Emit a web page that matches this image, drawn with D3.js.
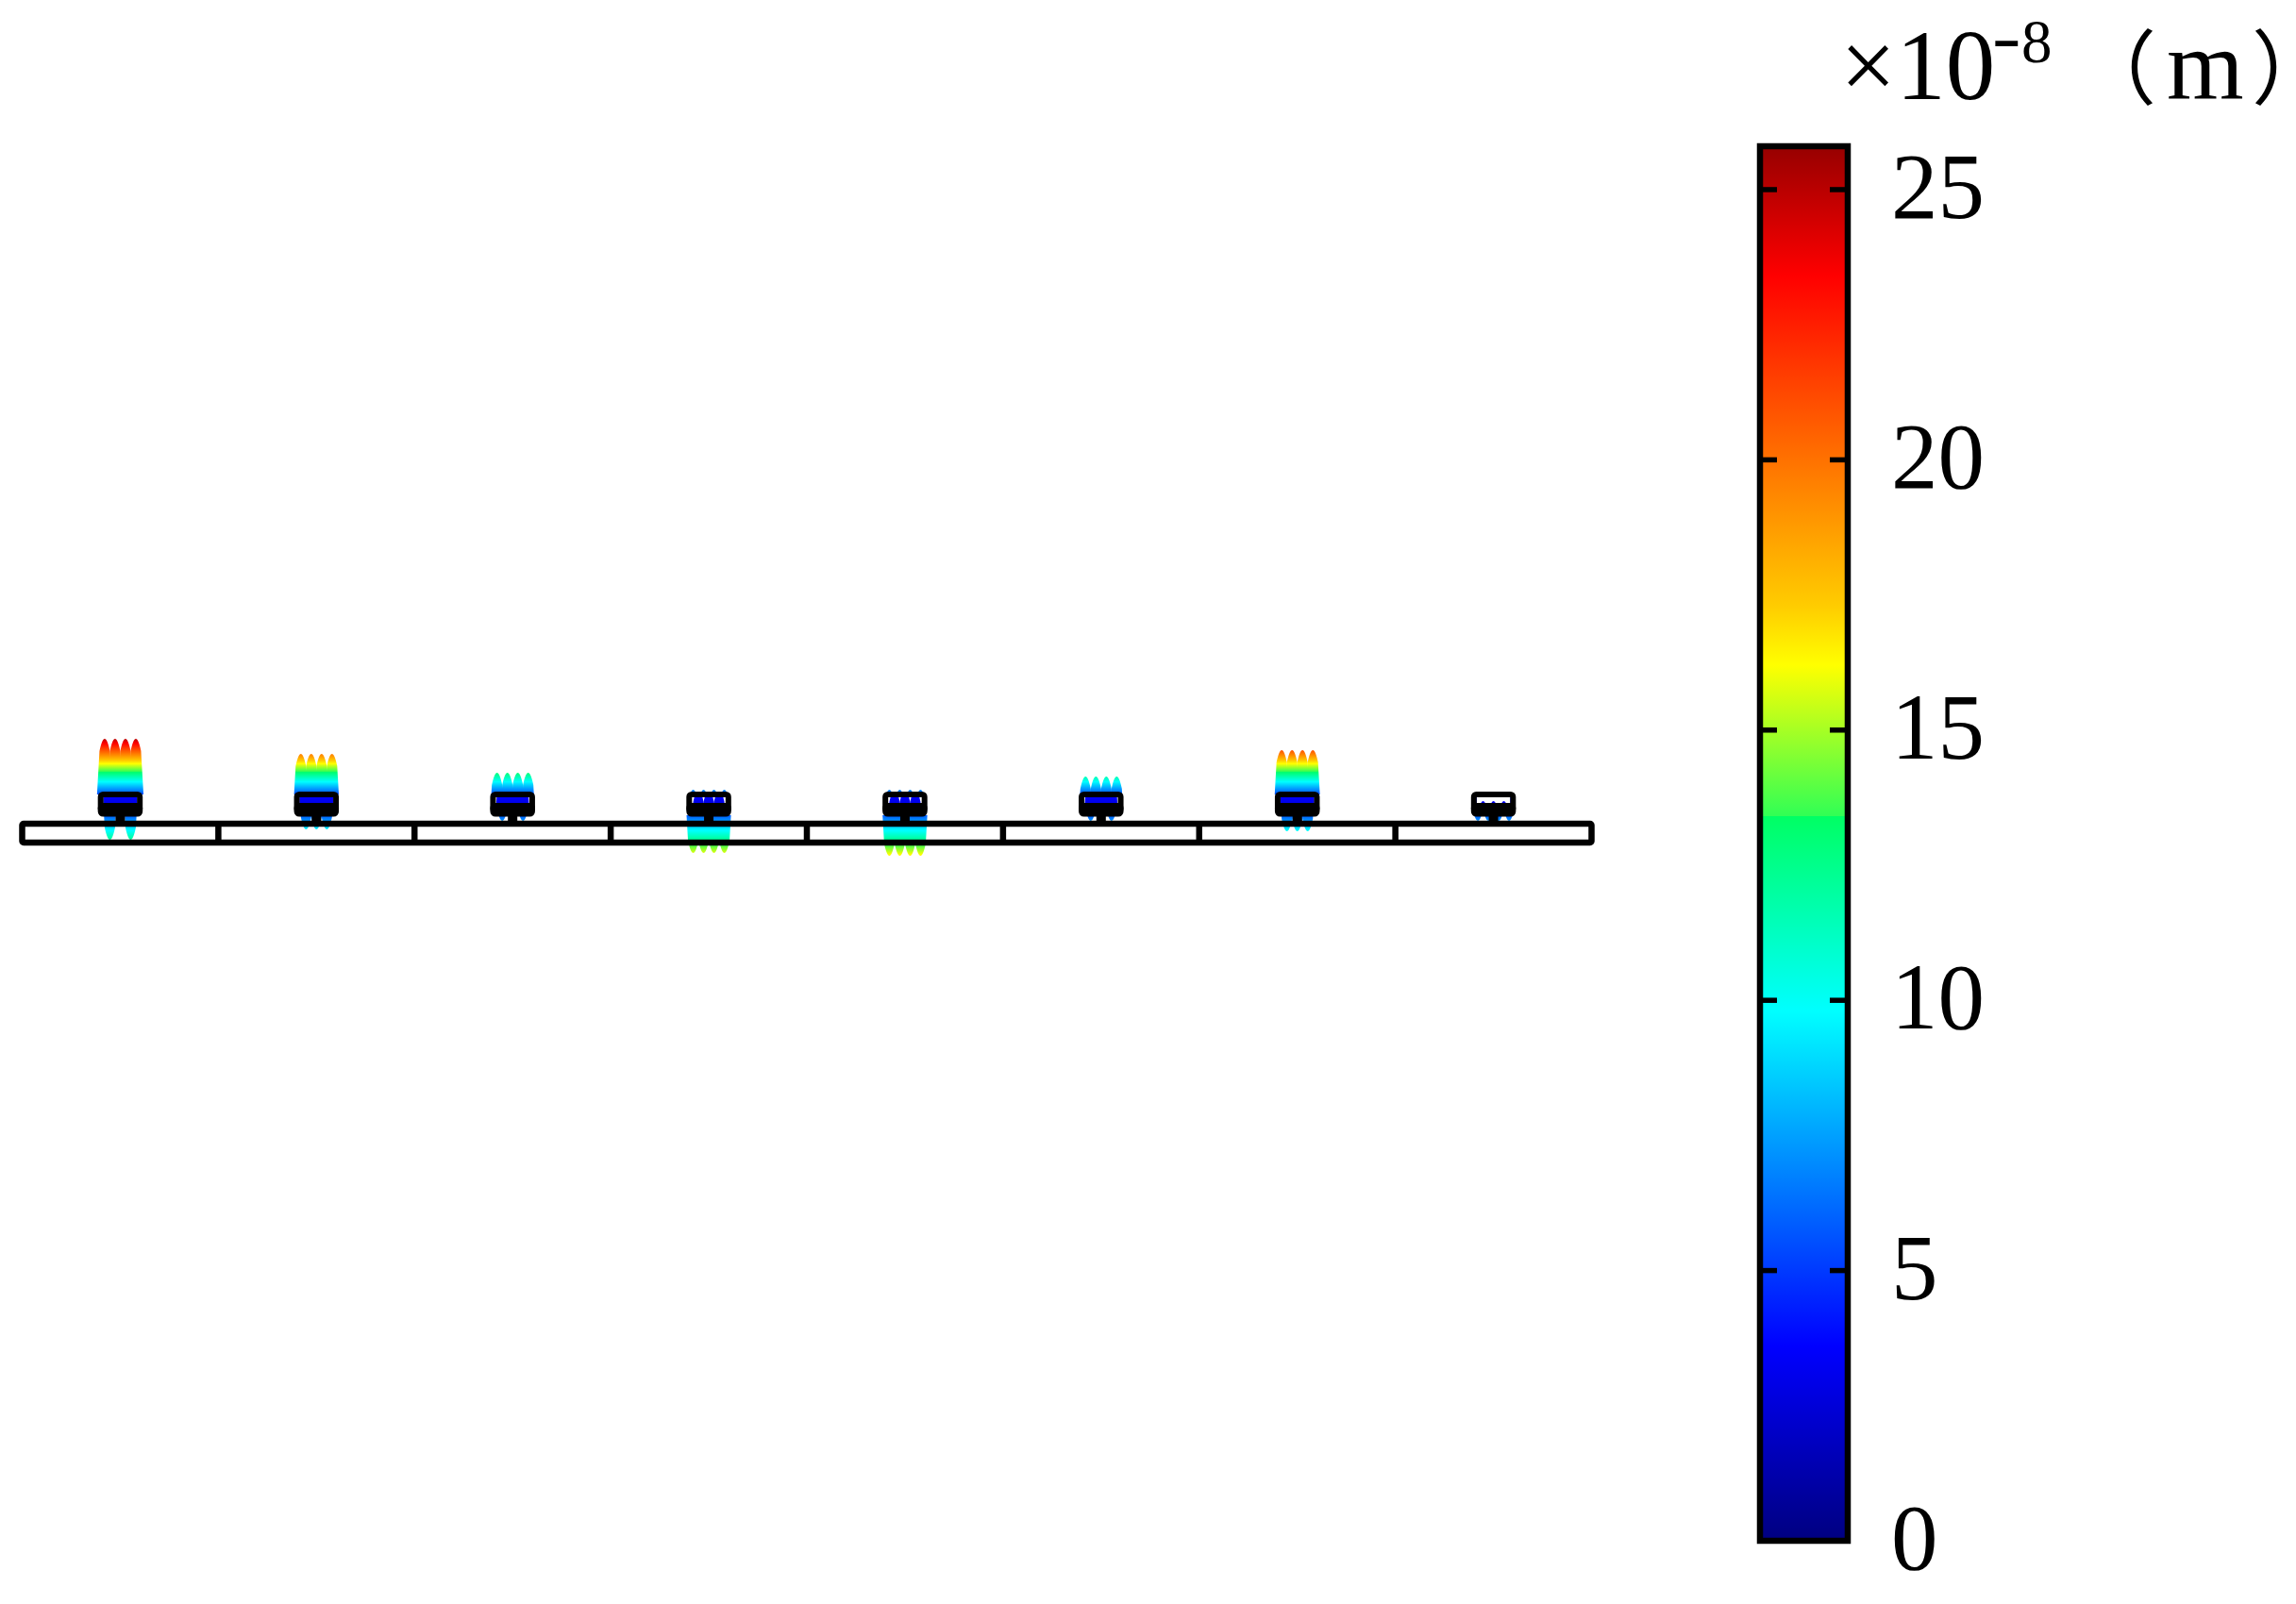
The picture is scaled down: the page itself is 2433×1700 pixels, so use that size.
<!DOCTYPE html>
<html><head><meta charset="utf-8">
<script src="https://d3js.org/d3.v7.min.js"></script>
<style>html,body{margin:0;padding:0;background:#fff}svg{display:block}</style>
</head><body><div id="c"></div>
<script>
// ---- data (displacement, in units of 1e-8 m) ----
const segments = ["S1","S2","S3","S4","S5","S6","S7","S8"];
const upperTip = [25, 19.7, 13, 7, 7, 11.7, 21, 0];
const lowerTip = [12.25, 9.5, 7.25, 15.75, 16.5, 7.25, 10, 7.25];
const innerTip = [8, 8, 5.5, 4.3, 4.3, 5.5, 8, 3.1];
const lowerOffsets = [[-11,11],[-11,0,11],[-11,11],[-16.5,-5.5,5.5,16.5],[-16.5,-5.5,5.5,16.5],[-11,11],[-11,0,11],[-16.5,-5.5,5.5,16.5]];
const upperOffsets = [-16.5,-5.5,5.5,16.5];
const innerOffsets = [-11,0,11];
const colorTicks = [0,5,10,15,20,25];
const colorMax = 25.75;
const colorValues = [0,3.6,9.8,13.4,13.4,16.2,17.3,23.4,25.75];
const colorHexes = ["#000080","#0000ff","#00ffff","#00ff64","#30ff55","#ffff00","#ffcc00","#ff0000","#990000"];

const W=2433,H=1700;
const svg=d3.select("#c").append("svg").attr("width",W).attr("height",H).attr("viewBox",`0 0 ${W} ${H}`);
const defs=svg.append("defs");

// scales
const x=d3.scaleBand().domain(segments).range([23.5,1686.5]);
const cx=s=>x(s)+x.bandwidth()/2;
const yUp=d3.scaleLinear().domain([0,colorMax]).range([858,780.75]);
const yDown=d3.scaleLinear().domain([0,colorMax]).range([841,944]);
const yIn=d3.scaleLinear().domain([0,colorMax]).range([880,622.5]);
const yBar=d3.scaleLinear().domain([0,colorMax]).range([1633,158]);

function gradient(id,scale){
  const g=defs.append("linearGradient").attr("id",id).attr("gradientUnits","userSpaceOnUse")
    .attr("x1",0).attr("x2",0).attr("y1",scale(0)).attr("y2",scale(colorMax));
  colorValues.forEach((v,i)=>g.append("stop").attr("offset",v/colorMax).attr("stop-color",colorHexes[i]));
}
gradient("gUp",yUp);gradient("gDown",yDown);gradient("gIn",yIn);gradient("gBar",yBar);

// lobe half-width as a function of depth from its tip
const hw=d=>d<13?5.5*Math.pow(d/13,0.5):5.5+(d-13)*0.057;
function lobe(c,tip,base){
  const dir=base>tip?1:-1, n=Math.abs(base-tip);
  if(base*dir<=tip*dir) return null;
  const ds=d3.range(0,n,0.5).concat([n]);
  return d3.area().y(d=>tip+dir*d).x0(d=>c-hw(d)).x1(d=>c+hw(d))(ds);
}

const root=svg.append("g");
segments.forEach((s,i)=>{
  const c=cx(s), g=root.append("g");
  upperOffsets.forEach(o=>{
    const p=lobe(c+o,yUp(upperTip[i]),842);
    if(p) g.append("path").attr("d",p).attr("fill","url(#gUp)");
  });
  lowerOffsets[i].forEach(o=>{
    const p=lobe(c+o,yDown(lowerTip[i]),864);
    if(p) g.append("path").attr("d",p).attr("fill","url(#gDown)");
  });
  defs.append("clipPath").attr("id","hole"+i).append("rect")
    .attr("x",c-18).attr("y",845).attr("width",36).attr("height",9);
  const hole=g.append("g").attr("clip-path",`url(#hole${i})`);
  hole.append("rect").attr("x",c-18).attr("y",845).attr("width",36).attr("height",9).attr("fill","#fff");
  innerOffsets.forEach(o=>{
    const p=lobe(c+o,yIn(innerTip[i]),856);
    if(p) hole.append("path").attr("d",p).attr("fill","url(#gIn)");
  });
  g.append("rect").attr("x",c-20.75).attr("y",842).attr("width",41.5).attr("height",17.5)
    .attr("rx",2.5).attr("fill","none").attr("stroke","#000").attr("stroke-width",6);
  g.append("rect").attr("x",c-20.75).attr("y",854).attr("width",41.5).attr("height",8.5)
    .attr("rx",2.5).attr("fill","#000").attr("stroke","#000").attr("stroke-width",6);
  g.append("rect").attr("x",c-5).attr("y",864).attr("width",10).attr("height",8).attr("fill","#000");
});

// beam
const beam=svg.append("g").attr("fill","none").attr("stroke","#000").attr("stroke-width",6.5);
beam.append("rect").attr("x",x.range()[0]).attr("y",873).attr("width",x.range()[1]-x.range()[0]).attr("height",20).attr("rx",1.5);
segments.slice(1).forEach(s=>beam.append("line").attr("x1",x(s)).attr("x2",x(s)).attr("y1",873).attr("y2",893));

// colour bar
const bar=svg.append("g");
bar.append("rect").attr("x",1865).attr("y",155).attr("width",93).attr("height",1478)
  .attr("fill","url(#gBar)").attr("stroke","#000").attr("stroke-width",6.5);
const ticks=bar.append("g").selectAll("g").data(colorTicks).join("g");
ticks.append("line").attr("x1",1867).attr("x2",1883).attr("y1",d=>yBar(d)).attr("y2",d=>yBar(d)).attr("stroke","#000").attr("stroke-width",5.5);
ticks.append("line").attr("x1",1939).attr("x2",1955).attr("y1",d=>yBar(d)).attr("y2",d=>yBar(d)).attr("stroke","#000").attr("stroke-width",5.5);
ticks.filter(d=>d===0).selectAll("line").remove();
const serif='"Liberation Serif","Times New Roman",serif';
ticks.append("text").attr("x",2004).attr("y",d=>yBar(d)+30).attr("font-family",serif).attr("font-size",99).attr("fill","#000").text(d=>d);

// unit label
const t=svg.append("g").attr("font-family",serif).attr("fill","#000");
t.append("text").attr("x",1950).attr("y",105).attr("font-size",105).text("×10");
t.append("text").attr("transform","translate(2111,62) scale(1.35,1)").attr("font-size",68).attr("font-weight","bold").text("-");
t.append("text").attr("x",2142).attr("y",66).attr("font-size",65).text("8");
const cjk='"Noto Sans CJK SC","Noto Sans CJK JP",serif';
t.append("text").attr("x",2285).attr("y",104).attr("text-anchor","end").attr("font-family",cjk).attr("font-size",86).text("（");
t.append("text").attr("x",2296).attr("y",105).attr("font-size",105).text("m");
t.append("text").attr("x",2389).attr("y",104).attr("font-family",cjk).style("font-feature-settings",'"palt"').attr("font-size",86).text("）");
</script></body></html>
